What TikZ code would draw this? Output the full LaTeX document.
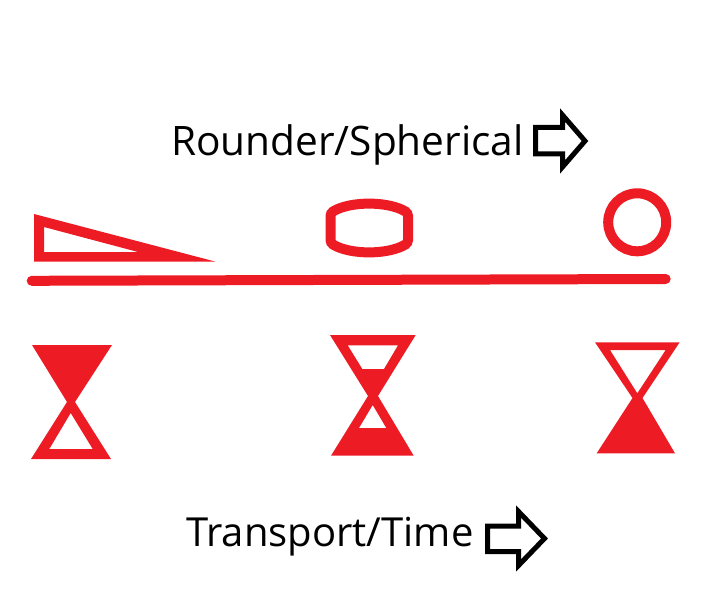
\documentclass[tikz,border=0pt]{standalone}
\usepackage{fontspec}
\setmainfont{Open Sans}
\usetikzlibrary{positioning}
\definecolor{markred}{RGB}{237,28,36}
\tikzset{
  label/.style={inner sep=0pt, anchor=base west, font=\fontsize{#1}{#1}\selectfont},
  outline/.style={draw=markred, line width=10pt},
  solid/.style={fill=markred, even odd rule},
  pointer/.style={draw=black, line width=5pt, miter limit=10, fill=white},
}
\begin{document}
\begin{tikzpicture}[x=1pt, y=-1pt]
    \useasboundingbox (0,0) rectangle (710,599);
    \node[label=40.6] (rounder) at (171,156) {Rounder/Spherical};
    \node[label=40] (transport) at (186,546) {Transport/Time};
    \draw[pointer] (535.5,127.5) -- (562.5,127.5) -- (562.5,115) -- (585,141) -- (562.5,167) -- (562.5,154) -- (535.5,154) -- cycle;
    \draw[pointer] (487.5,526) -- (518.5,526) -- (518.5,511.5) -- (544.5,538.5) -- (518.5,565.5) -- (518.5,551.5) -- (487.5,551.5) -- cycle;
    % upper row
    \fill[solid] (34,214) -- (215,261.5) -- (34,261.5) -- cycle (44,227) -- (44,252) -- (138,252) -- cycle;
    \draw[outline, rounded corners=3pt] (330.5,213) .. controls (350,201) and (388,201) .. (408,213) -- (408,243) .. controls (388,255) and (350,255) .. (330.5,243) -- cycle;
    \draw[outline] (637.2,222.3) circle (29);
    \draw[outline, line cap=round] (31.7,280.8) -- (665.7,279);
    % lower row
    \fill[solid] (32,345) -- (112,345) -- (75,402) -- (111,459) -- (31,459) -- (67,402) -- cycle (49.3,449) -- (92.7,449) -- (70.7,413) -- cycle;
    \fill[solid] (330,335) -- (415.7,335) -- (378,396) -- (413.7,455.7) -- (331,455.7) -- (368,396) -- cycle
      (347.7,345.3) -- (398,345.3) -- (384,369) -- (362.3,369) -- cycle
      (372.7,405) -- (359,428) -- (386.3,428) -- cycle;
    \fill[solid] (595,342.3) -- (679.7,342.3) -- (642.5,398) -- (675,453.3) -- (596.7,453.3) -- (632.5,398) -- cycle
      (610,350) -- (665.7,350) -- (637.3,393.3) -- cycle;
  \end{tikzpicture}
\end{document}
